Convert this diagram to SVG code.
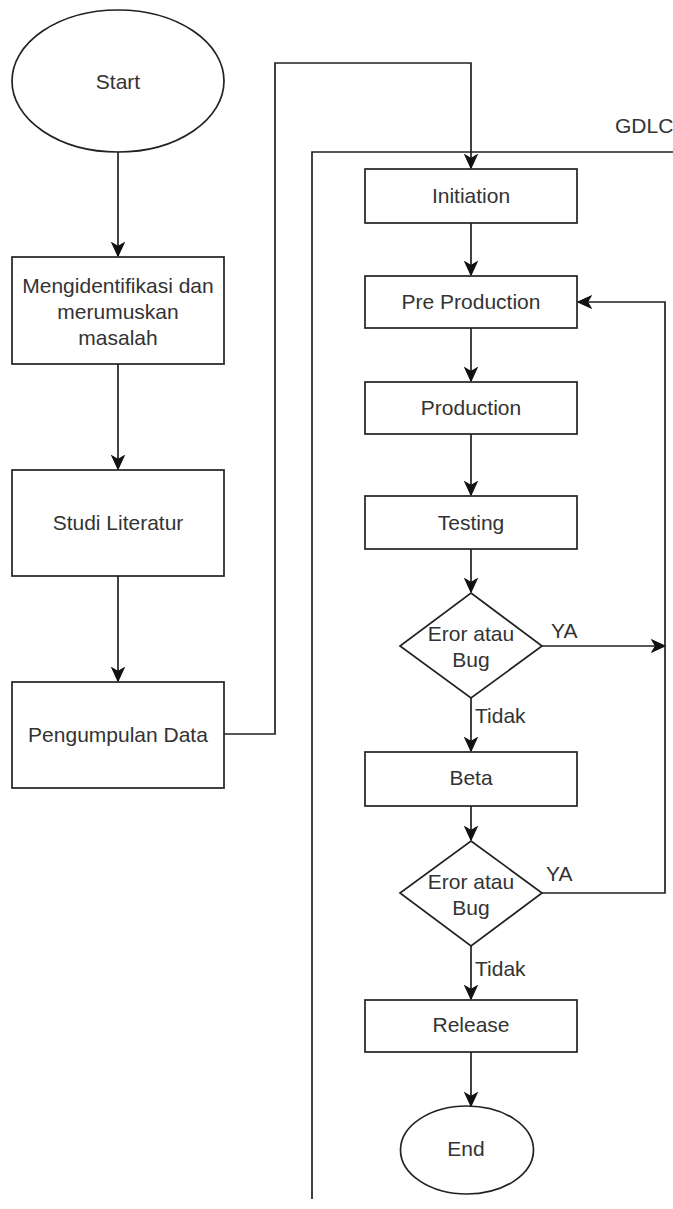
<svg xmlns="http://www.w3.org/2000/svg" width="673" height="1209" viewBox="0 0 673 1209">
<style>
.shape{fill:#fff;stroke:#222;stroke-width:1.7}
.edge{fill:none;stroke:#222;stroke-width:1.7}
.t{font-family:"Liberation Sans",Arial,sans-serif;font-size:21px;fill:#333;text-anchor:middle;dominant-baseline:central}
.lbl{font-family:"Liberation Sans",Arial,sans-serif;font-size:21px;fill:#333;dominant-baseline:central}
</style>
<defs>
<marker id="arr" markerUnits="userSpaceOnUse" markerWidth="16" markerHeight="16" viewBox="0 0 16 16" refX="14" refY="8" orient="auto">
<path d="M1,2 L14,8 L1,14 L4.5,8 z" fill="#111" stroke="#111" stroke-width="1.2" stroke-linejoin="miter"/>
</marker>
</defs>
<rect width="673" height="1209" fill="#fff"/>
<g id="gdlc-container">
<path class="edge" d="M312,1199 V152 H673"/>
<text class="lbl" x="615" y="125">GDLC</text>
</g>
<g id="connectors">
<path class="edge" d="M118,152 V256" marker-end="url(#arr)"/>
<path class="edge" d="M118,364 V469" marker-end="url(#arr)"/>
<path class="edge" d="M118,576 V681" marker-end="url(#arr)"/>
<path class="edge" d="M224,734 H275 V63 H471 V168" marker-end="url(#arr)"/>
<path class="edge" d="M471,223 V275" marker-end="url(#arr)"/>
<path class="edge" d="M471,328 V381" marker-end="url(#arr)"/>
<path class="edge" d="M471,434 V495" marker-end="url(#arr)"/>
<path class="edge" d="M471,549 V592" marker-end="url(#arr)"/>
<path class="edge" d="M542,646 H665" marker-end="url(#arr)"/>
<path class="edge" d="M471,698 V751" marker-end="url(#arr)"/>
<path class="edge" d="M471,806 V840" marker-end="url(#arr)"/>
<path class="edge" d="M542,893 H665 V302 H578" marker-end="url(#arr)"/>
<path class="edge" d="M471,946 V999" marker-end="url(#arr)"/>
<path class="edge" d="M471,1052 V1106" marker-end="url(#arr)"/>
<text class="lbl" x="551" y="630">YA</text>
<text class="lbl" x="475" y="715">Tidak</text>
<text class="lbl" x="546" y="873">YA</text>
<text class="lbl" x="475" y="968">Tidak</text>
</g>
<g id="start">
<ellipse class="shape" cx="118" cy="81" rx="106" ry="71"/>
<text class="t" x="118" y="81">Start</text>
</g>
<g id="identifikasi">
<rect class="shape" x="12" y="257" width="212" height="107"/>
<text class="t" x="118" y="285">Mengidentifikasi dan</text>
<text class="t" x="118" y="311">merumuskan</text>
<text class="t" x="118" y="337">masalah</text>
</g>
<g id="studi">
<rect class="shape" x="12" y="470" width="212" height="106"/>
<text class="t" x="118" y="522">Studi Literatur</text>
</g>
<g id="pengumpulan">
<rect class="shape" x="12" y="682" width="212" height="106"/>
<text class="t" x="118" y="734">Pengumpulan Data</text>
</g>
<g id="initiation">
<rect class="shape" x="365" y="169" width="212" height="54"/>
<text class="t" x="471" y="195">Initiation</text>
</g>
<g id="preproduction">
<rect class="shape" x="365" y="276" width="212" height="52"/>
<text class="t" x="471" y="301">Pre Production</text>
</g>
<g id="production">
<rect class="shape" x="365" y="382" width="212" height="52"/>
<text class="t" x="471" y="407">Production</text>
</g>
<g id="testing">
<rect class="shape" x="365" y="496" width="212" height="53"/>
<text class="t" x="471" y="522">Testing</text>
</g>
<g id="decision1">
<polygon class="shape" points="471,593 542,646 471,698 400,646"/>
<text class="t" x="471" y="633">Eror atau</text>
<text class="t" x="471" y="659">Bug</text>
</g>
<g id="beta">
<rect class="shape" x="365" y="752" width="212" height="54"/>
<text class="t" x="471" y="777">Beta</text>
</g>
<g id="decision2">
<polygon class="shape" points="471,841 542,893 471,946 400,893"/>
<text class="t" x="471" y="881">Eror atau</text>
<text class="t" x="471" y="907">Bug</text>
</g>
<g id="release">
<rect class="shape" x="365" y="1000" width="212" height="52"/>
<text class="t" x="471" y="1024">Release</text>
</g>
<g id="end">
<ellipse class="shape" cx="467" cy="1150" rx="66.5" ry="44"/>
<text class="t" x="466" y="1148">End</text>
</g>
</svg>
